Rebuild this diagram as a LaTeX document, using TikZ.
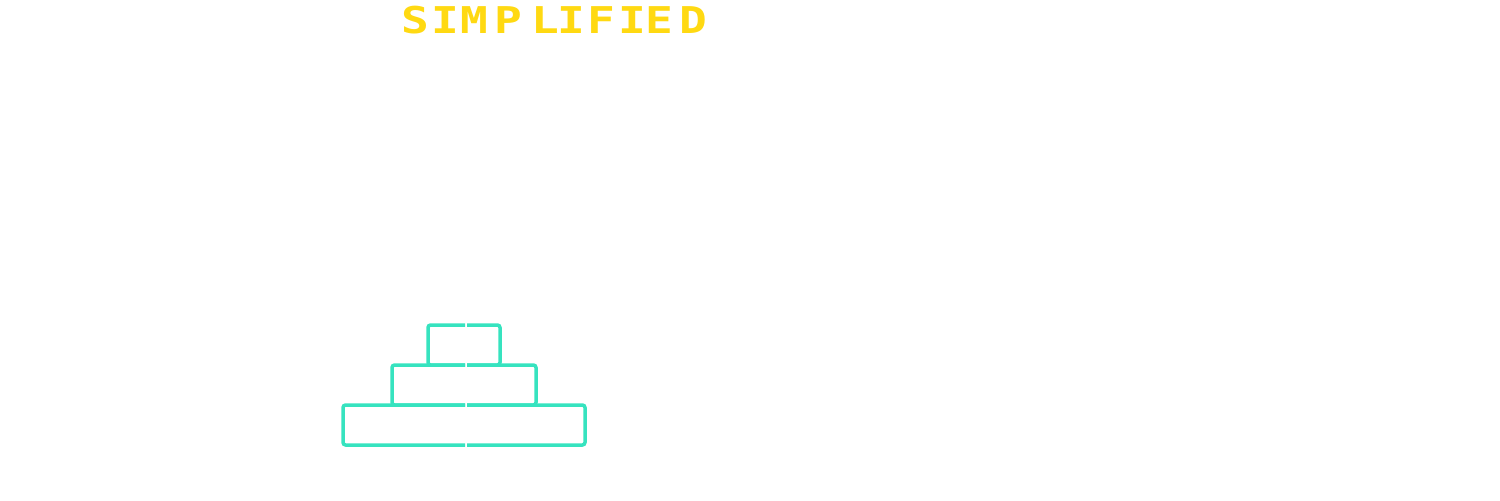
\documentclass[tikz,border=0pt]{standalone}
\usepackage{fontspec}
\newfontfamily\pixelfont{DejaVu Sans Mono}
\usepackage{tikz}

\definecolor{titleyellow}{HTML}{FFD912}
\definecolor{stackteal}{HTML}{36E3BF}

\tikzset{
	tier/.style={draw=stackteal, line width=0.07cm, rounded corners=1.5pt},
	letter/.style={text=titleyellow, font=\pixelfont\bfseries\fontsize{21}{21}\selectfont, inner sep=0pt, xscale=1.25}
}

\begin{document}
\begin{tikzpicture}[x=0.02cm, y=-0.02cm]
	\useasboundingbox (0,0) rectangle (1500,500);

	% title, one letter at a time
	\foreach \ch/\cx in {S/415, I/445, M/474, P/508, L/545, I/571, F/601, I/632, E/659, D/693}
		\node[letter] (t\cx) at (\cx,20) {\ch};

	% stack of three tiers, each drawn as two halves
	\foreach \l/\r/\t/\b in {428/500/325/365, 392/536/365/405, 343/585/405/445} {
		\draw[tier] (465,\t) -- (\l,\t) -- (\l,\b) -- (465,\b);
		\draw[tier] (467,\t) -- (\r,\t) -- (\r,\b) -- (467,\b);
	}
\end{tikzpicture}
\end{document}
